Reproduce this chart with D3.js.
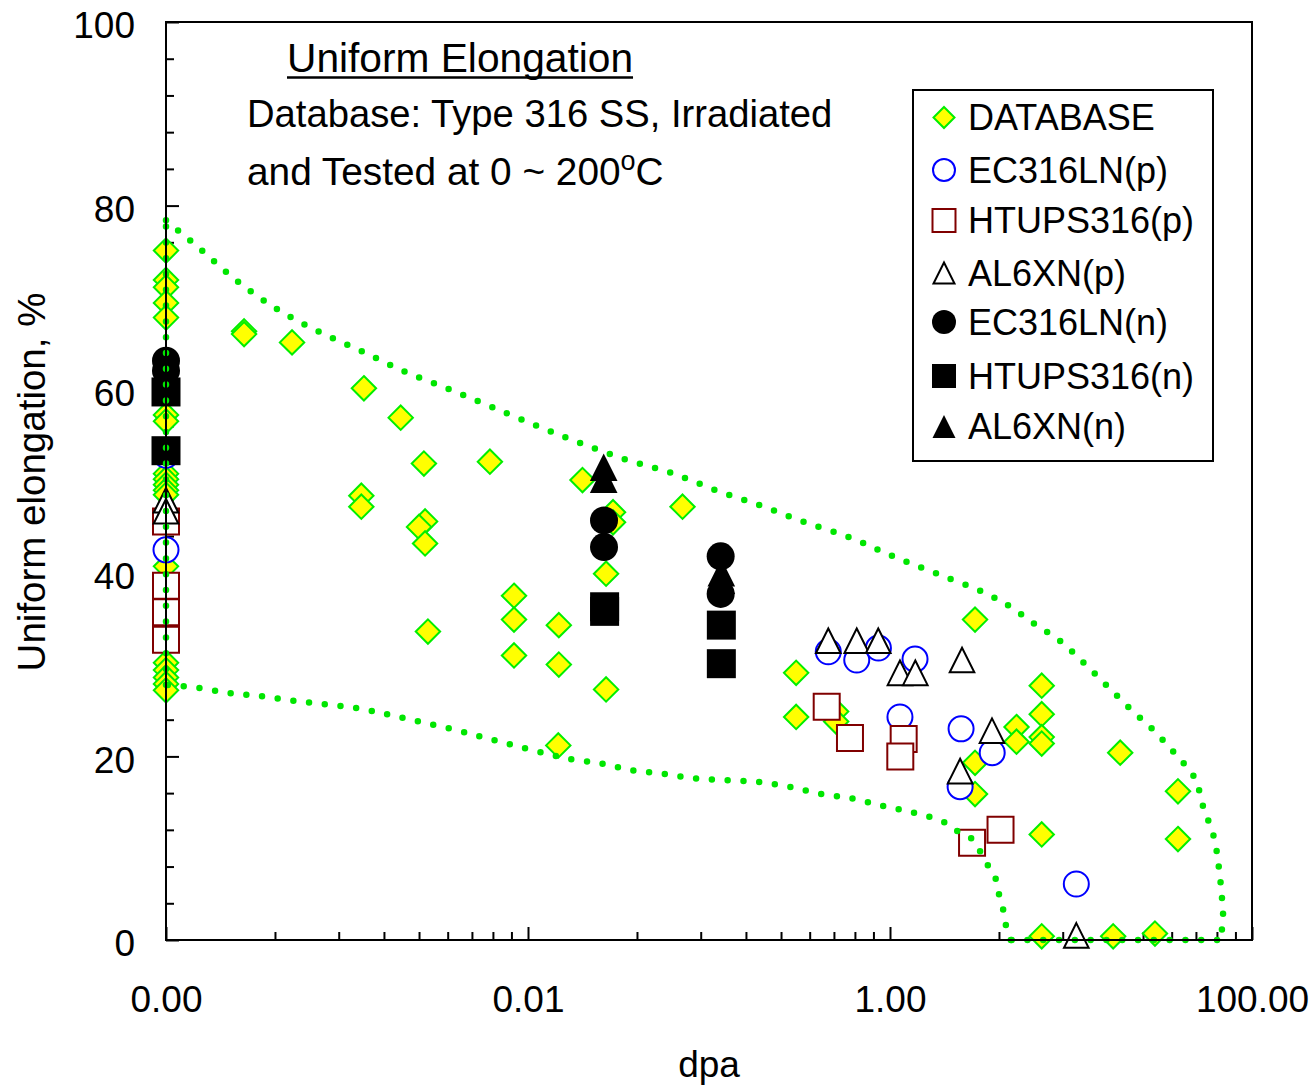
<!DOCTYPE html>
<html><head><meta charset="utf-8">
<script src="https://cdn.jsdelivr.net/npm/d3@7"></script>
<style>
body{margin:0;background:#fff}
svg{display:block}
text{font-family:"Liberation Sans",Arial,Helvetica,sans-serif;fill:#000}
</style>
</head><body>
<svg id="chart" width="1314" height="1086"></svg>
<script>
// ---------- data (dpa, uniform elongation %) ; dpa = 0 is plotted at 0.0001 ----------
const seriesNames = ["DATABASE","EC316LN(p)","HTUPS316(p)","AL6XN(p)","EC316LN(n)","HTUPS316(n)","AL6XN(n)"];

const database = [
  [1e-4,75.1],[1e-4,71.9],[1e-4,71.1],[1e-4,69.4],[1e-4,67.8],[1e-4,57.2],[1e-4,56.5],
  [1e-4,50.8],[1e-4,50.2],[1e-4,49.6],[1e-4,49.0],[1e-4,48.5],[1e-4,40.7],
  [1e-4,30.2],[1e-4,29.4],[1e-4,28.6],[1e-4,27.9],[1e-4,27.2],
  [2.7e-4,66.3],[2.7e-4,66.0],[4.97e-4,65.1],[1.24e-3,60.1],[1.98e-3,56.9],[2.66e-3,51.9],
  [6.16e-3,52.1],[1.2e-3,48.4],[1.2e-3,47.2],[2.7e-3,45.6],[2.5e-3,45.0],[2.7e-3,43.2],
  [2.8e-3,33.6],[2.0e-2,50.1],[2.95e-2,46.6],[2.95e-2,45.5],[0.027,39.9],[0.027,27.3],
  [0.0714,47.2],[8.37e-3,37.5],[8.37e-3,34.9],[8.37e-3,31.0],[0.0148,34.3],[0.0148,30.0],
  [0.0147,21.2],[0.303,29.1],[0.303,24.3],[0.504,24.9],[0.504,23.8],[2.95,34.9],
  [6.89,27.7],[6.89,24.6],[5.0,23.2],[5.0,21.6],[6.89,22.1],[6.89,21.4],[2.95,19.3],
  [2.95,15.9],[6.89,11.5],[18.7,20.4],[39,16.2],[39,11.0],[6.89,0.4],[17.1,0.4],[29.1,0.7]
];
const ec316lnP = [[1e-4,52.8],[1e-4,42.5],[0.456,31.4],[0.655,30.5],[0.863,31.8],[1.375,30.6],
  [1.135,24.3],[2.47,23.0],[3.67,20.4],[2.44,16.7],[10.7,6.1]];
const htups316P = [[1e-4,45.6],[1e-4,38.6],[1e-4,35.7],[1e-4,32.7],[0.447,25.4],[0.601,22.0],
  [1.19,21.9],[1.14,20.0],[2.84,10.6],[4.08,12.0]];
const al6xnP = [[1e-4,47.9],[1e-4,46.7],[0.456,32.6],[0.655,32.6],[0.861,32.6],[1.135,29.1],
  [1.38,29.1],[2.50,30.5],[3.66,22.8],[2.44,18.4],[10.7,0.5]];
const ec316lnN = [[1e-4,63.1],[1e-4,62.0],[0.0263,45.7],[0.0263,42.8],[0.116,41.8],[0.116,37.7]];
const htups316N = [[1e-4,59.7],[1e-4,53.3],[0.0265,36.3],[0.0265,35.8],[0.117,34.3],[0.117,30.1]];
const al6xnN = [[0.0262,51.5],[0.0262,50.2],[0.117,40.0],[0.117,39.2]];

// envelope (dotted scatter band)
const envUpper = [[1e-4,78.4],[1.56e-4,75.2],[2.5e-4,71.7],[4.2e-4,68.6],[7.1e-4,66.2],[1.22e-3,64.1],
  [2.09e-3,61.9],[3.66e-3,60.0],[6.25e-3,58.1],[1.12e-2,56.0],[1.96e-2,54.1],[3.52e-2,52.3],
  [6.17e-2,50.9],[0.109,49.0],[0.194,47.3],[0.339,45.5],[0.609,43.8],[1.04,41.8],[1.82,39.9],
  [3.26,37.9],[4.54,36.4],[6.32,34.4],[8.8,32.5],[11.9,30.1],[15.8,27.7],[21.2,25.2],[28.4,22.9],
  [37.6,20.3],[48.4,17.6],[53.6,14.6],[61.6,11.2],[65.7,7.8],[68.3,4.5],[69.2,2.8],[68.3,1.2],[64.1,0]];
const envBottom = [[64.1,0],[4.65,0]];
const envLower = [[4.65,0],[4.37,1.6],[4.21,3.4],[4.0,5.0],[3.8,6.9],[3.43,8.3],[2.8,11.1],[2.29,12.0],
  [1.96,12.9],[1.34,13.9],[0.914,14.6],[0.625,15.4],[0.416,15.9],[0.277,16.7],[0.189,17.2],[0.126,17.4],
  [8.38e-2,17.6],[5.57e-2,18.1],[3.71e-2,18.5],[2.59e-2,19.2],[1.73e-2,19.7],[1.15e-2,20.5],
  [7.66e-3,21.4],[5.36e-3,22.2],[3.57e-3,23.1],[2.38e-3,23.9],[1.66e-3,24.6],[1.11e-3,25.3],
  [7.37e-4,25.7],[4.91e-4,26.1],[3.27e-4,26.6],[2.23e-4,26.9],[1.48e-4,27.5],[1e-4,27.8]];
const envLeft = [[1e-4,27.8],[1e-4,78.4]];

const xMajorTicks = [1e-4,1e-2,1,100];
const xMinorTicks = [1e-4,1e-2,1].flatMap(b=>[2,3,4,5,6,7,8,9].map(k=>b*k*k));
const yMajorTicks = [0,20,40,60,80,100];
const yMinorTicks = d3.range(0,101,4).filter(v=>v%20!==0);

const titleText = "Uniform Elongation";
const noteLine1 = "Database: Type 316 SS, Irradiated";
const noteLine2 = "and Tested at 0 ~ 200";
const xTitle = "dpa";
const yTitle = "Uniform elongation, %";

// ---------- drawing ----------
const svg = d3.select("#chart");
const L=166,R=1252,T=22,B=940;
const x = d3.scaleLog().domain([1e-4,100]).range([L,R]);
const y = d3.scaleLinear().domain([0,100]).range([B,T]);

const green="#00ee00", dotGreen="#00e600";

const shapes = {
  diamond:(s)=>`M0,${-s}L${s},0L0,${s}L${-s},0Z`,
  square:(s)=>`M${-s},${-s}H${s}V${s}H${-s}Z`,
  tri:(s)=>`M0,${-s}L${s},${s}L${-s},${s}Z`
};
function drawMarker(g,type,size,style){
  let el;
  if(type==="circle"){ el=g.append("circle").attr("r",size); }
  else { el=g.append("path").attr("d",shapes[type](size)); }
  el.attr("fill",style.fill).attr("stroke",style.stroke||"none").attr("stroke-width",style.sw||0)
    .attr("stroke-linejoin","miter");
  return el;
}
const styles = [
  {data:database, type:"diamond", size:12.2, leg:10.5, fill:"#ffff00", stroke:green, sw:2},
  {data:ec316lnP, type:"circle", size:12.5, leg:11, fill:"#fff", stroke:"#0000ff", sw:2},
  {data:htups316P, type:"square", size:13, leg:11.5, fill:"#fff", stroke:"#800000", sw:2},
  {data:al6xnP, type:"tri", size:12.3, leg:10.5, fill:"#fff", stroke:"#000", sw:2},
  {data:ec316lnN, type:"circle", size:14, leg:12, fill:"#000"},
  {data:htups316N, type:"square", size:14.5, leg:12, fill:"#000"},
  {data:al6xnN, type:"tri", size:13.8, leg:11.5, fill:"#000"}
];

// axes (ticks inward)
const gx = svg.append("g").attr("transform",`translate(0,${B})`);
gx.call(d3.axisBottom(x).tickValues(xMinorTicks).tickSize(-8).tickFormat(""));
gx.append("g").call(d3.axisBottom(x).tickValues(xMajorTicks).tickSize(-13).tickPadding(46).tickFormat(d3.format(".2f")));
const gy = svg.append("g").attr("transform",`translate(${L},0)`);
gy.call(d3.axisLeft(y).tickValues(yMinorTicks).tickSize(-8).tickFormat(""));
const gyMaj = gy.append("g").call(d3.axisLeft(y).tickValues(yMajorTicks).tickSize(-13).tickPadding(31));
gyMaj.selectAll(".tick text").attr("dy","0.43em");
svg.selectAll(".domain").remove();
svg.selectAll(".tick line").attr("stroke","#000").attr("stroke-width",2);
svg.selectAll(".tick text").attr("font-size",37).attr("font-family",'"Liberation Sans",Arial,sans-serif').attr("fill","#000");

// markers
styles.forEach(st=>{
  const g = svg.append("g");
  st.data.forEach(d=>{
    const mg = g.append("g").attr("transform",`translate(${x(d[0])},${y(d[1])})`);
    drawMarker(mg,st.type,st.size,st);
  });
});

// envelope dotted line
const curveLine = d3.line().x(d=>x(d[0])).y(d=>y(d[1])).curve(d3.curveCatmullRom.alpha(0.5));
const straight = d3.line().x(d=>x(d[0])).y(d=>y(d[1]));
const envG = svg.append("g").attr("fill","none").attr("stroke",dotGreen).attr("stroke-width",6.5)
  .attr("stroke-linecap","round").attr("stroke-dasharray","0 15.8");
envG.append("path").attr("d",curveLine(envUpper));
envG.append("path").attr("d",straight(envBottom));
envG.append("path").attr("d",curveLine(envLower));
envG.append("path").attr("d",straight(envLeft));

// frame
svg.append("rect").attr("x",L).attr("y",T).attr("width",R-L).attr("height",B-T)
  .attr("fill","none").attr("stroke","#000").attr("stroke-width",2);

// annotation
const tt = svg.append("text").attr("x",287).attr("y",72).attr("font-size",40.7).text(titleText);
const tw = tt.node().getComputedTextLength();
svg.append("line").attr("x1",287).attr("x2",287+tw).attr("y1",77.5).attr("y2",77.5)
  .attr("stroke","#000").attr("stroke-width",2.5);
svg.append("text").attr("x",247).attr("y",127).attr("font-size",38.2).text(noteLine1);
const n2 = svg.append("text").attr("x",247).attr("y",185).attr("font-size",38.8);
n2.append("tspan").text(noteLine2);
n2.append("tspan").attr("font-size",27).attr("dy",-15).text("o");
n2.append("tspan").attr("dy",15).text("C");

// axis titles
svg.append("text").attr("x",709).attr("y",1077).attr("text-anchor","middle").attr("font-size",37).text(xTitle);
svg.append("text").attr("transform","translate(45,482) rotate(-90)").attr("text-anchor","middle")
  .attr("font-size",38.5).text(yTitle);

// legend
const lg = svg.append("g");
lg.append("rect").attr("x",913).attr("y",90).attr("width",300).attr("height",371)
  .attr("fill","#fff").attr("stroke","#000").attr("stroke-width",2);
const legRows=[117.5,170,220.5,273,322,376,426.5];
styles.forEach((st,i)=>{
  const mg = lg.append("g").attr("transform",`translate(944,${legRows[i]})`);
  drawMarker(mg,st.type,st.leg,st);
  lg.append("text").attr("x",968).attr("y",legRows[i]+12.8).attr("font-size",36).text(seriesNames[i]);
});
</script>
</body></html>
